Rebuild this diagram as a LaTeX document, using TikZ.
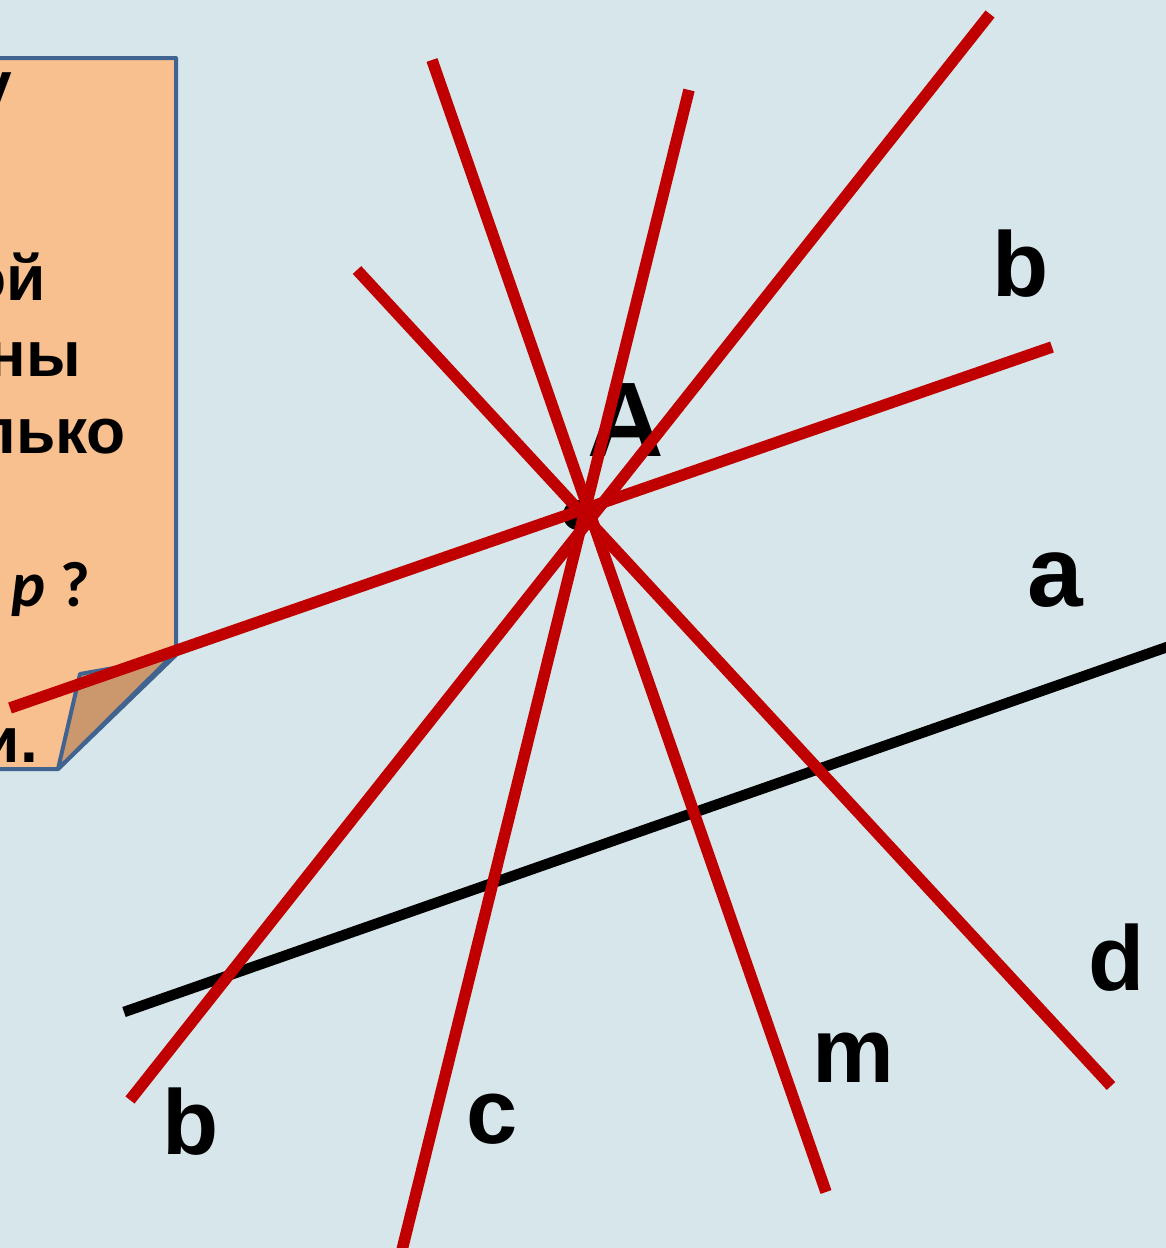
\documentclass[tikz,border=0pt]{standalone}
\usepackage{fontspec}
\setmainfont{Liberation Sans}
\newfontfamily\notefont{Carlito}
\definecolor{bgblue}{RGB}{214,230,234}
\definecolor{sheetfill}{RGB}{249,192,143}
\definecolor{foldfill}{RGB}{203,152,110}
\definecolor{sheetedge}{RGB}{65,99,143}
\definecolor{lnred}{RGB}{192,0,0}

\begin{document}
\begin{tikzpicture}[x=1pt, y=-1pt,
	every node/.style={inner sep=0pt},
	redline/.style={draw=lnred, line width=11.5pt},
	lbl/.style={anchor=base, font=\fontsize{92}{92}\selectfont\bfseries},
	notetext/.style={anchor=base east, font=\fontsize{64}{77}\selectfont\bfseries}]
	\fill[bgblue] (0,0) rectangle (1166,1248);
	\useasboundingbox (0,0) rectangle (1166,1248);

	% folded sheet with the question
	\draw[sheetedge, line width=4pt, fill=sheetfill, line join=round]
		(-10,58) -- (176,58) -- (176,655) -- (58,769) -- (-10,769) -- cycle;
	\draw[sheetedge, line width=4pt, fill=foldfill, line join=round]
		(80,674) -- (170,658) -- (58,769) -- cycle;
	\node[notetext] (q1) at (12,106) {у};
	\node[notetext] (q2) at (46,300) {ой};
	\node[notetext] (q3) at (81,376) {ны};
	\node[notetext] (q4) at (126,453) {лько};
	\node[anchor=base east, font=\notefont\fontsize{64}{77}\selectfont\bfseries] (q5) at (90,606) {\textit{p} ?};
	\node[notetext] (q6) at (38,762) {и.};

	% line a and the point A
	\coordinate (a1) at (124,1012);
	\coordinate (a2) at (1170,646);
	\draw[line width=10.5pt] (a1) -- (a2);
	\fill (578,515) circle (15pt);
	\node[lbl, font=\fontsize{106}{106}\selectfont\bfseries] (A) at (626,456) {A};

	% lines through A
	\coordinate (m1) at (432,60);     \coordinate (m2) at (826,1192);
	\coordinate (c1) at (689,90);     \coordinate (c2) at (402,1250);
	\coordinate (b1) at (990,14);     \coordinate (b2) at (130,1100);
	\coordinate (d1) at (357,270);    \coordinate (d2) at (1111,1086);
	\coordinate (p1) at (10,708);     \coordinate (p2) at (1052,347);
	\foreach \s/\e in {m1/m2, c1/c2, b1/b2, d1/d2, p1/p2}
		\draw[redline] (\s) -- (\e);

	% labels
	\node[lbl] (lb1) at (1021,296) {b};
	\node[lbl, font=\fontsize{100}{100}\selectfont\bfseries] (la) at (1055,606) {a};
	\node[lbl] (ld) at (1117,990) {d};
	\node[lbl] (lm) at (853,1082) {m};
	\node[lbl] (lc) at (492,1143) {c};
	\node[lbl] (lb2) at (191,1154) {b};
\end{tikzpicture}
\end{document}
